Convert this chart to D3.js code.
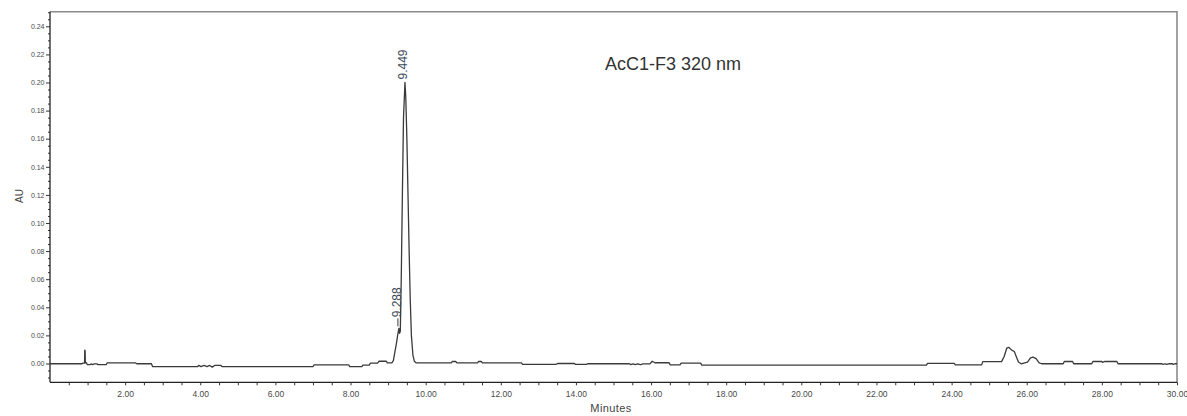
<!DOCTYPE html>
<html>
<head>
<meta charset="utf-8">
<script src="https://cdn.jsdelivr.net/npm/d3@7"></script>
<style>
  html, body { margin: 0; padding: 0; background: #fff; }
  svg { display: block; font-family: Arial, "Liberation Sans", sans-serif; }
</style>
</head>
<body>
<svg id="chart" width="1187" height="416"></svg>
<script>
// Chromatogram trace: retention time (min) and absorbance (AU)
const retentionTime = [
  0.00, 0.85, 0.87, 0.92, 0.925, 0.935, 0.94, 0.97, 0.99, 1.07, 1.09, 1.13, 1.18, 1.25, 1.28, 1.50, 1.52, 2.28, 2.31, 2.70,
  2.73, 3.93, 3.96, 4.02, 4.10, 4.18, 4.25, 4.32, 4.38, 4.55, 4.58, 7.00, 7.03, 7.95, 7.98, 8.30, 8.33, 8.50, 8.53, 8.72,
  8.76, 8.95, 8.98, 9.10, 9.14, 9.18, 9.22, 9.26, 9.288, 9.305, 9.325, 9.35, 9.38, 9.41, 9.449, 9.47, 9.50, 9.53, 9.56, 9.59,
  9.62, 9.66, 9.70, 9.75, 10.68, 10.71, 10.80, 10.83, 11.38, 11.41, 11.48, 11.51, 12.55, 12.58, 13.48, 13.51, 13.96, 13.99, 14.28, 14.31,
  15.42, 15.46, 15.52, 15.58, 15.64, 15.72, 15.78, 15.97, 16.03, 16.10, 16.48, 16.51, 16.77, 16.80, 17.32, 17.35, 23.33, 23.36, 24.07, 24.10,
  24.80, 24.83, 25.33, 25.40, 25.47, 25.52, 25.60, 25.67, 25.72, 25.78, 25.85, 26.02, 26.10, 26.17, 26.25, 26.33, 26.40, 26.97, 27.00, 27.22,
  27.25, 27.73, 27.76, 28.00, 28.02, 28.07, 28.40, 28.43, 29.60, 29.63, 29.68, 29.72, 29.78, 29.88, 29.90, 29.95, 30.00
];
const absorbance = [
  -0.0002, -0.0002, 0.0002, 0.0002, 0.0095, 0.0090, 0.0005, 0.0005, -0.0008, -0.0008, -0.0003, -0.0008, -0.0003, -0.0003, -0.0008, -0.0008, 0.0004, 0.0004, -0.0002, -0.0002,
  -0.0022, -0.0022, -0.0014, -0.0022, -0.0014, -0.0022, -0.0014, -0.0026, -0.0014, -0.0014, -0.0022, -0.0022, -0.0010, -0.0010, -0.0023, -0.0023, -0.0012, -0.0012, 0.0003, 0.0003,
  0.0016, 0.0016, 0.0004, 0.0004, 0.0020, 0.0080, 0.0140, 0.0210, 0.0250, 0.0215, 0.0230, 0.0600, 0.1200, 0.1750, 0.2000, 0.1900, 0.1600, 0.1200, 0.0800, 0.0450,
  0.0200, 0.0060, 0.0015, 0.0004, 0.0004, 0.0014, 0.0014, 0.0004, 0.0004, 0.0014, 0.0014, 0.0004, 0.0004, -0.0006, -0.0006, 0.0000, 0.0000, -0.0007, -0.0007, -0.0002,
  -0.0002, -0.0008, -0.0003, -0.0008, -0.0003, -0.0009, -0.0003, -0.0003, 0.0016, 0.0005, 0.0005, -0.0010, -0.0010, 0.0002, 0.0002, -0.0012, -0.0012, 0.0001, 0.0001, -0.0010,
  -0.0010, 0.0013, 0.0013, 0.0050, 0.0110, 0.0115, 0.0095, 0.0085, 0.0050, 0.0010, -0.0002, 0.0010, 0.0040, 0.0045, 0.0035, 0.0005, -0.0002, -0.0002, 0.0014, 0.0014,
  -0.0002, -0.0002, 0.0014, 0.0014, 0.0008, 0.0014, 0.0014, -0.0002, -0.0002, -0.0007, -0.0002, -0.0007, -0.0002, -0.0002, -0.0007, -0.0002, -0.0002
];

// Integrated peaks (retention time labels) and their heights
const peakTimes = [9.288, 9.449];
const peakHeights = [0.0250, 0.2000];
const peakLabels = ["9.288", "9.449"];

// Axis ticks
const xTickValues = [2, 4, 6, 8, 10, 12, 14, 16, 18, 20, 22, 24, 26, 28, 30];
const xTickLabels = ["2.00", "4.00", "6.00", "8.00", "10.00", "12.00", "14.00", "16.00", "18.00", "20.00", "22.00", "24.00", "26.00", "28.00", "30.00"];
const yTickValues = [0.00, 0.02, 0.04, 0.06, 0.08, 0.10, 0.12, 0.14, 0.16, 0.18, 0.20, 0.22, 0.24];
const yTickLabels = ["0.00", "0.02", "0.04", "0.06", "0.08", "0.10", "0.12", "0.14", "0.16", "0.18", "0.20", "0.22", "0.24"];

const titleText = "AcC1-F3 320 nm";
const xAxisTitle = "Minutes";
const yAxisTitle = "AU";

const svg = d3.select("#chart");
const plot = { left: 50, right: 1177, top: 11.7, bottom: 382.3 };

const x = d3.scaleLinear().domain([0, 30]).range([plot.left, plot.right]);
const y = d3.scaleLinear().domain([-0.0134, 0.2504]).range([plot.bottom, plot.top]);

const labelColor = "#4a4a4a";

// Top and right frame
svg.append("path")
  .attr("d", `M${plot.left},${plot.top}H${plot.right}V${plot.bottom}`)
  .attr("fill", "none")
  .attr("stroke", "#8a8a8a")
  .attr("stroke-width", 1.6);

// X axis: minor ticks every 0.5 min, labels every 2 min
const xAxis = d3.axisBottom(x)
  .tickValues(d3.range(0.5, 30.001, 0.5))
  .tickSize(3)
  .tickSizeOuter(0)
  .tickFormat(d => {
    const i = xTickValues.findIndex(v => Math.abs(v - d) < 1e-6);
    return i >= 0 ? xTickLabels[i] : "";
  });
const gx = svg.append("g")
  .attr("transform", `translate(0,${plot.bottom})`)
  .call(xAxis);
gx.select(".domain").attr("stroke", "#222").attr("stroke-width", 1.3)
  .attr("d", `M${plot.left},0H${plot.right}`);
gx.selectAll(".tick line").attr("stroke", "#333");
gx.selectAll(".tick text")
  .attr("fill", labelColor)
  .attr("font-size", 8.5)
  .attr("font-family", "Arial, 'Liberation Sans', sans-serif")
  .attr("dy", 0)
  .attr("y", 15);

// Y axis: minor ticks every 0.005 AU, labelled majors every 0.02 AU
const yMinor = d3.range(-0.01, 0.2501, 0.005).filter(v => !yTickValues.some(t => Math.abs(t - v) < 1e-6));
const gyMinor = svg.append("g").attr("transform", `translate(${plot.left},0)`)
  .call(d3.axisLeft(y).tickValues(yMinor).tickSize(2).tickFormat(""));
gyMinor.select(".domain").remove();
gyMinor.selectAll(".tick line").attr("stroke", "#333");

const gy = svg.append("g")
  .attr("transform", `translate(${plot.left},0)`)
  .call(d3.axisLeft(y)
    .tickValues(yTickValues)
    .tickSize(4)
    .tickSizeOuter(0)
    .tickFormat((d, i) => yTickLabels[i]));
gy.select(".domain").attr("stroke", "#222").attr("stroke-width", 1.3)
  .attr("d", `M0,${plot.top}V${plot.bottom}`);
gy.selectAll(".tick line").attr("stroke", "#333");
gy.selectAll(".tick text")
  .attr("fill", labelColor)
  .attr("font-size", 7)
  .attr("font-family", "Arial, 'Liberation Sans', sans-serif")
  .attr("x", -5.5);

// Axis titles
svg.append("text")
  .attr("x", 611).attr("y", 412)
  .attr("text-anchor", "middle")
  .attr("font-size", 11)
  .attr("letter-spacing", 0.4)
  .attr("fill", "#444")
  .text(xAxisTitle);

svg.append("text")
  .attr("transform", "translate(23,196) rotate(-90)")
  .attr("text-anchor", "middle")
  .attr("font-size", 10)
  .attr("fill", "#444")
  .text(yAxisTitle);

// Chromatogram trace
const trace = retentionTime.map((t, i) => [t, absorbance[i]]);
svg.append("path")
  .datum(trace)
  .attr("fill", "none")
  .attr("stroke", "#3a3a3a")
  .attr("stroke-width", 1.3)
  .attr("stroke-linejoin", "round")
  .attr("d", d3.line().x(d => x(d[0])).y(d => y(d[1])));

// Peak retention-time labels, rotated along the peak
peakTimes.forEach((t, i) => {
  const px = x(t);
  const py = y(peakHeights[i]);
  const leader = peakHeights[i] < 0.1 ? 8 : 0;
  if (leader) {
    svg.append("line")
      .attr("x1", px - 1).attr("x2", px - 1)
      .attr("y1", py - 2).attr("y2", py - 2 - leader)
      .attr("stroke", "#3a3a3a").attr("stroke-width", 1);
  }
  svg.append("text")
    .attr("transform", `translate(${px + 2},${py - 3 - leader}) rotate(-90)`)
    .attr("font-size", 12)
    .attr("fill", "#3c4a5a")
    .text(peakLabels[i]);
});

// Chart title
svg.append("text")
  .attr("x", 605).attr("y", 70)
  .attr("font-size", 18)
  .attr("fill", "#333")
  .text(titleText);
</script>
</body>
</html>
